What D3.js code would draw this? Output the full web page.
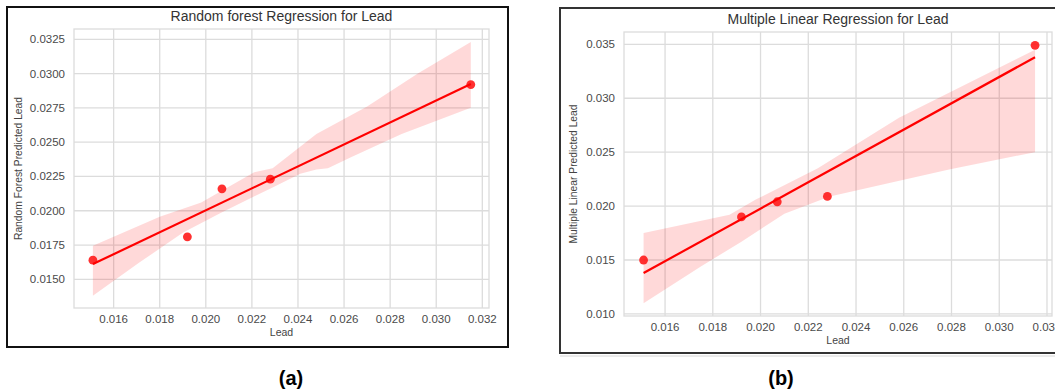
<!DOCTYPE html>
<html>
<head>
<meta charset="utf-8">
<script src="https://cdn.jsdelivr.net/npm/d3@7"></script>
<style>
  body { margin: 0; background: #fff; }
  svg { display: block; font-family: "Liberation Sans", Arial, sans-serif; }
</style>
</head>
<body>
<script>
// measured lead values and the two model predictions
var lead = [0.0151, 0.0192, 0.0207, 0.0228, 0.0315];
var rfPred = [0.0164, 0.0181, 0.0216, 0.0223, 0.0292];
var mlrPred = [0.0150, 0.0190, 0.0204, 0.0209, 0.0349];

// confidence band edges, [lead, value]
var rfUpper = [[0.0151, 0.01745], [0.0180, 0.01956], [0.0198, 0.0206], [0.0221, 0.0228], [0.0229, 0.0231],
  [0.0248, 0.0256], [0.0270, 0.0276], [0.0292, 0.0300], [0.0315, 0.0323]];
var rfLower = [[0.0151, 0.0138], [0.0171, 0.0162], [0.0190, 0.0184], [0.0206, 0.0198], [0.0229, 0.0217],
  [0.0241, 0.0227], [0.0248, 0.0230], [0.0253, 0.0231], [0.0263, 0.0239], [0.0285, 0.0256], [0.0315, 0.0275]];
var mlrUpper = [[0.0151, 0.0175], [0.0187, 0.0192], [0.0198, 0.0206], [0.0224, 0.0235], [0.0258, 0.0282],
  [0.0315, 0.0345]];
var mlrLower = [[0.0151, 0.0110], [0.0175, 0.0144], [0.0192, 0.0167], [0.0210, 0.0193], [0.0229, 0.0209],
  [0.0279, 0.0234], [0.0315, 0.0250]];

// tick labels
var leadTicks = [0.016, 0.018, 0.020, 0.022, 0.024, 0.026, 0.028, 0.030, 0.032];
var rfTicks = [0.0150, 0.0175, 0.0200, 0.0225, 0.0250, 0.0275, 0.0300, 0.0325];
var mlrTicks = [0.010, 0.015, 0.020, 0.025, 0.030, 0.035];

var svg = d3.select("body").append("svg")
  .attr("width", 1055)
  .attr("height", 392);

// least squares fit, like regplot's line
function fit(xs, ys) {
  var mx = d3.mean(xs), my = d3.mean(ys);
  var sxy = d3.sum(xs, (x, i) => (x - mx) * (ys[i] - my));
  var sxx = d3.sum(xs, x => (x - mx) * (x - mx));
  var b = sxy / sxx;
  return {b: b, a: my - b * mx};
}

function drawPanel(p) {
  // outer frame
  svg.append("rect")
    .attr("x", p.frame[0]).attr("y", p.frame[1])
    .attr("width", p.frame[2]).attr("height", p.frame[3])
    .attr("fill", "none")
    .attr("stroke", p.frameColor)
    .attr("stroke-width", 2);

  var x = d3.scaleLinear().domain(p.xDomain).range([p.left, p.right]);
  var y = d3.scaleLinear().domain(p.yDomain).range([p.bottom, p.top]);
  var g = svg.append("g");

  // grid
  g.selectAll("line.vg").data(leadTicks).enter().append("line")
    .attr("x1", d => x(d)).attr("x2", d => x(d))
    .attr("y1", p.top).attr("y2", p.bottom)
    .attr("stroke", "#dcdcdc").attr("stroke-width", 1.3);
  g.selectAll("line.hg").data(p.yTicks).enter().append("line")
    .attr("y1", d => y(d)).attr("y2", d => y(d))
    .attr("x1", p.left).attr("x2", p.right)
    .attr("stroke", "#dcdcdc").attr("stroke-width", 1.3);
  g.append("rect")
    .attr("x", p.left).attr("y", p.top)
    .attr("width", p.right - p.left).attr("height", p.bottom - p.top)
    .attr("fill", "none").attr("stroke", "#dcdcdc").attr("stroke-width", 1.3);

  // tick labels
  g.selectAll("text.xt").data(leadTicks).enter().append("text")
    .attr("x", d => x(d)).attr("y", p.bottom + 15)
    .attr("text-anchor", "middle")
    .attr("font-size", 11.5).attr("fill", "#4a4a4a")
    .text(d3.format(".3f"));
  g.selectAll("text.yt").data(p.yTicks).enter().append("text")
    .attr("x", p.left - 9).attr("y", d => y(d))
    .attr("dy", "0.35em")
    .attr("text-anchor", "end")
    .attr("font-size", 11.5).attr("fill", "#4a4a4a")
    .text(d3.format(p.yFormat));

  // titles
  g.append("text")
    .attr("x", (p.left + p.right) / 2).attr("y", p.top - 8)
    .attr("text-anchor", "middle")
    .attr("font-size", 14).attr("fill", "#333")
    .text(p.title);
  g.append("text")
    .attr("x", (p.left + p.right) / 2).attr("y", p.bottom + 28)
    .attr("text-anchor", "middle")
    .attr("font-size", 10.5).attr("fill", "#444")
    .text("Lead");
  g.append("text")
    .attr("transform", "translate(" + p.yLabelX + "," + ((p.top + p.bottom) / 2) + ") rotate(-90)")
    .attr("dy", "0.35em")
    .attr("text-anchor", "middle")
    .attr("font-size", 10.3).attr("fill", "#444")
    .text(p.yLabel);

  // confidence band
  var band = p.upper.concat(p.lower.slice().reverse());
  g.append("path")
    .attr("d", d3.line().x(d => x(d[0])).y(d => y(d[1]))(band) + "Z")
    .attr("fill", "#ff0000")
    .attr("fill-opacity", 0.15);

  // points
  g.selectAll("circle").data(p.ys).enter().append("circle")
    .attr("cx", (d, i) => x(lead[i]))
    .attr("cy", d => y(d))
    .attr("r", 4.4)
    .attr("fill", "#ff1a1a")
    .attr("fill-opacity", 0.9);

  // fit line
  var f = fit(lead, p.ys);
  var ext = d3.extent(lead);
  g.append("path")
    .attr("d", d3.line().x(d => x(d)).y(d => y(f.a + f.b * d))(ext))
    .attr("stroke", "#ff0000")
    .attr("stroke-width", 2.2)
    .attr("fill", "none");

  svg.append("text")
    .attr("x", p.tagX).attr("y", 385)
    .attr("text-anchor", "middle")
    .attr("font-size", 20).attr("font-weight", "bold")
    .attr("fill", "#000")
    .text(p.tag);
}

drawPanel({
  frame: [7, 7, 501, 340], frameColor: "#111",
  left: 74, right: 489, top: 29, bottom: 308,
  xDomain: [0.01428, 0.03229], yDomain: [0.01291, 0.03325],
  yTicks: rfTicks, yFormat: ".4f",
  title: "Random forest Regression for Lead",
  yLabel: "Random Forest Predicted Lead", yLabelX: 18,
  ys: rfPred, upper: rfUpper, lower: rfLower,
  tag: "(a)", tagX: 291
});

drawPanel({
  frame: [560, 8, 520, 345], frameColor: "#333",
  left: 624, right: 1052, top: 32, bottom: 316,
  xDomain: [0.01428, 0.03221], yDomain: [0.00981, 0.03614],
  yTicks: mlrTicks, yFormat: ".3f",
  title: "Multiple Linear Regression for Lead",
  yLabel: "Multiple Linear Predicted Lead", yLabelX: 573,
  ys: mlrPred, upper: mlrUpper, lower: mlrLower,
  tag: "(b)", tagX: 781
});

// faint shadow under the second frame
svg.append("line")
  .attr("x1", 560).attr("x2", 1055)
  .attr("y1", 356).attr("y2", 356)
  .attr("stroke", "#d6d6d6").attr("stroke-width", 1);
</script>
</body>
</html>
